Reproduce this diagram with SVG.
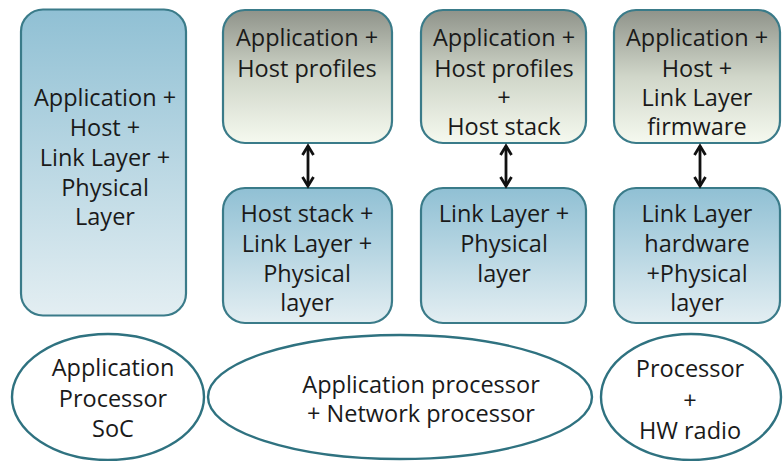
<svg xmlns="http://www.w3.org/2000/svg" width="783" height="461" viewBox="0 0 783 461">
<defs>
<linearGradient id="gBlue" x1="0" y1="0" x2="0" y2="1">
<stop offset="0" stop-color="#90c0d4"/>
<stop offset="1" stop-color="#e3eef2"/>
</linearGradient>
<linearGradient id="gGray" x1="0" y1="0" x2="0" y2="1">
<stop offset="0" stop-color="#8f938a"/>
<stop offset="0.5" stop-color="#d0d6c9"/>
<stop offset="1" stop-color="#f5f9ef"/>
</linearGradient>
<marker id="ah" viewBox="0 0 14 14" refX="11" refY="7" markerWidth="14" markerHeight="14" markerUnits="userSpaceOnUse" orient="auto-start-reverse">
<path d="M2,1.5 L11,7 L2,12.5" fill="none" stroke="#111" stroke-width="2.8" stroke-linejoin="miter"/>
</marker>
</defs>
<style>
.box{stroke:#3a7b89;stroke-width:2.2}
.blue{fill:url(#gBlue)}
.gray{fill:url(#gGray)}
.ell{fill:#ffffff;stroke:#2f7280;stroke-width:2.4}
text{font-family:"Open Sans","Noto Sans","DejaVu Sans",sans-serif;font-size:23.5px;fill:#1a1a1a;text-anchor:middle}
.et{font-size:23.5px}
.conn{stroke:#111;stroke-width:2.8;fill:none}
</style>
<rect width="783" height="461" fill="#ffffff"/>

<g id="left-box">
<rect class="box blue" x="21" y="9.5" width="165" height="306" rx="22"/>
<text x="105" y="106">Application +</text>
<text x="105" y="136">Host +</text>
<text x="105" y="166">Link Layer +</text>
<text x="105" y="196">Physical</text>
<text x="105" y="225">Layer</text>
</g>

<g id="c2-top">
<rect class="box gray" x="223" y="10" width="169" height="133" rx="22"/>
<text x="307" y="46">Application +</text>
<text x="307" y="77">Host profiles</text>
</g>
<g id="c2-bottom">
<rect class="box blue" x="223" y="188" width="169" height="135" rx="22"/>
<text x="307" y="222">Host stack +</text>
<text x="307" y="252">Link Layer +</text>
<text x="307" y="282">Physical</text>
<text x="307" y="311">layer</text>
</g>

<g id="c3-top">
<rect class="box gray" x="421" y="10" width="165" height="133" rx="22"/>
<text x="504" y="46">Application +</text>
<text x="504" y="77">Host profiles</text>
<text x="504" y="106">+</text>
<text x="504" y="135">Host stack</text>
</g>
<g id="c3-bottom">
<rect class="box blue" x="421" y="188" width="165" height="135" rx="22"/>
<text x="504" y="222">Link Layer +</text>
<text x="504" y="252">Physical</text>
<text x="504" y="282">layer</text>
</g>

<g id="c4-top">
<rect class="box gray" x="614" y="10" width="166" height="133" rx="22"/>
<text x="697" y="46">Application +</text>
<text x="697" y="77">Host +</text>
<text x="697" y="106">Link Layer</text>
<text x="697" y="135">firmware</text>
</g>
<g id="c4-bottom">
<rect class="box blue" x="614" y="188" width="166" height="135" rx="22"/>
<text x="697" y="222">Link Layer</text>
<text x="697" y="252">hardware</text>
<text x="697" y="282">+Physical</text>
<text x="697" y="311">layer</text>
</g>

<g id="connectors">
<line class="conn" x1="308" y1="146" x2="308" y2="186" marker-start="url(#ah)" marker-end="url(#ah)"/>
<line class="conn" x1="506" y1="146" x2="506" y2="186" marker-start="url(#ah)" marker-end="url(#ah)"/>
<line class="conn" x1="700" y1="146" x2="700" y2="186" marker-start="url(#ah)" marker-end="url(#ah)"/>
</g>

<g id="ell-left">
<ellipse class="ell" cx="108" cy="397" rx="96" ry="63"/>
<text class="et" x="113" y="376">Application</text>
<text class="et" x="113" y="407">Processor</text>
<text class="et" x="113" y="437">SoC</text>
</g>
<g id="ell-mid">
<ellipse class="ell" cx="400" cy="397" rx="192" ry="62"/>
<text class="et" x="421" y="393">Application processor</text>
<text class="et" x="421" y="422">+ Network processor</text>
</g>
<g id="ell-right">
<ellipse class="ell" cx="691" cy="397" rx="90" ry="63"/>
<text class="et" x="690" y="377">Processor</text>
<text class="et" x="690" y="409">+</text>
<text class="et" x="690" y="439">HW radio</text>
</g>
</svg>
